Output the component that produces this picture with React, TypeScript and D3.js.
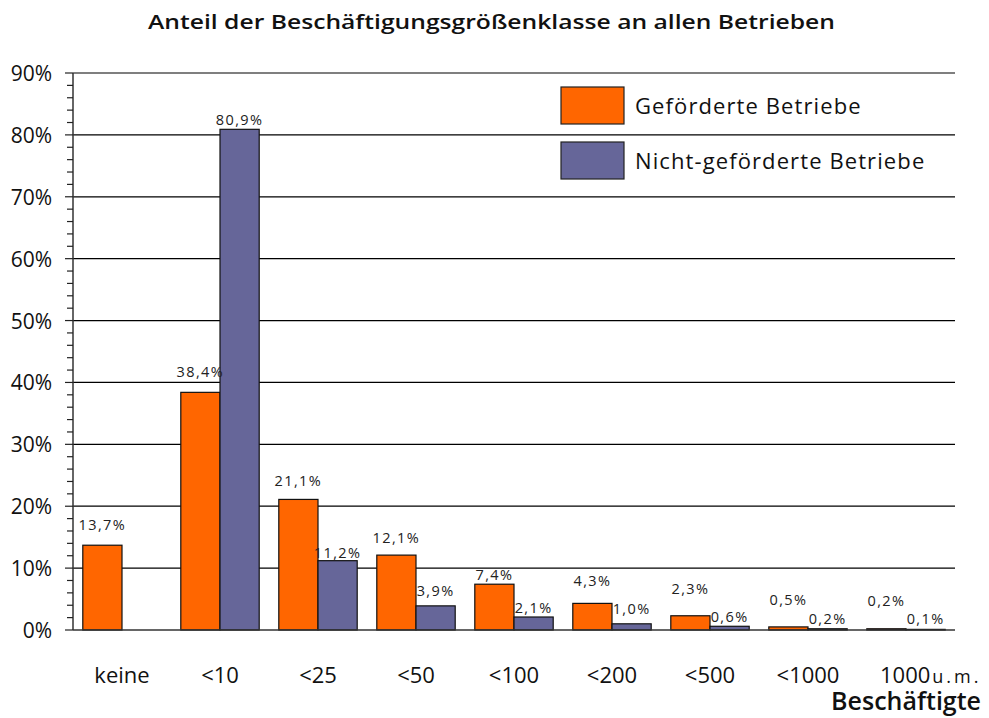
import React, { useEffect } from "react";
import * as d3 from "d3";

const categories = ["keine", "<10", "<25", "<50", "<100", "<200", "<500", "<1000", "1000"];
const lastSuffix = "u.m.";
const seriesNames = ["Geförderte Betriebe", "Nicht-geförderte Betriebe"];
const gefoerdert: (number | null)[] = [13.7, 38.4, 21.1, 12.1, 7.4, 4.3, 2.3, 0.5, 0.2];
const nichtGefoerdert: (number | null)[] = [null, 80.9, 11.2, 3.9, 2.1, 1.0, 0.6, 0.2, 0.1];
const yTicks = [0, 10, 20, 30, 40, 50, 60, 70, 80, 90];
const minorTicks = d3.range(0, 90.01, 2);
// vertical gap (px) between bar top and its value label, as placed in the original
const labelGapA = [15, 15, 13, 12, 4, 17, 22, 22, 23];
const labelGapB = [0, 4, 3, 10, 4, 10, 4, 5, 5];

const colors = ["#FF6600", "#666699"];
const W = 989;
const H = 718;
const FONT = "'Open Sans', 'DejaVu Sans', sans-serif";

const fmt = (v: number) => v.toFixed(1).replace(".", ",") + "%";

export default function App() {
  useEffect(() => {
    document.body.style.margin = "0";
  }, []);

  const left = 73;
  const right = 955;
  const y = d3.scaleLinear().domain([0, 90]).range([630, 73]);
  const x = d3.scaleBand<string>().domain(categories).range([left, right]).paddingInner(0.2).paddingOuter(0.1);
  const sub = d3.scaleBand<number>().domain([0, 1]).range([0, x.bandwidth()]);
  const series = [gefoerdert, nichtGefoerdert];
  const gaps = [labelGapA, labelGapB];
  const lastCat = categories[categories.length - 1];

  return (
    <svg width={W} height={H} style={{ display: "block", background: "#fff" }} fontFamily={FONT}>
      <text x={148} y={29} fontSize={19} fontWeight={600} fill="#111" textLength={687} lengthAdjust="spacingAndGlyphs">
        Anteil der Beschäftigungsgrößenklasse an allen Betrieben
      </text>

      {/* gridlines */}
      {yTicks.filter((t) => t > 0).map((t) => (
        <line key={"g" + t} x1={left} x2={right} y1={y(t)} y2={y(t)} stroke="#000" strokeWidth={1.2} />
      ))}

      {/* legend */}
      {seriesNames.map((n, i) => (
        <g key={n}>
          <rect x={561} y={87 + i * 55} width={63} height={37} fill={colors[i]} stroke="#222" strokeWidth={1.2} />
          <text x={635} y={104.5 + i * 55} dominantBaseline="central" fontSize={22} letterSpacing={1.1} fill="#111">
            {n}
          </text>
        </g>
      ))}

      {/* bars */}
      {series.map((s, si) =>
        s.map((v, ci) =>
          v == null ? null : (
            <rect
              key={si + "-" + ci}
              x={(x(categories[ci]) as number) + (sub(si) as number)}
              y={y(v)}
              width={sub.bandwidth()}
              height={y(0) - y(v)}
              fill={colors[si]}
              stroke="#111"
              strokeWidth={1.2}
            />
          )
        )
      )}

      {/* value labels */}
      {series.map((s, si) =>
        s.map((v, ci) =>
          v == null ? null : (
            <text
              key={"l" + si + "-" + ci}
              x={(x(categories[ci]) as number) + (sub(si) as number) + sub.bandwidth() / 2}
              y={y(v) - gaps[si][ci]}
              textAnchor="middle"
              fontSize={14.5}
              letterSpacing={1.4}
              fill="#222"
            >
              {fmt(v)}
            </text>
          )
        )
      )}

      {/* axes */}
      <line x1={left} x2={right} y1={y(0)} y2={y(0)} stroke="#333" strokeWidth={1.5} />
      <line x1={left} x2={left} y1={y(0)} y2={y(90)} stroke="#333" strokeWidth={1.5} />
      {minorTicks.map((t) => (
        <line key={"m" + t} x1={t % 10 === 0 ? 65 : 67} x2={left} y1={y(t)} y2={y(t)} stroke="#222" strokeWidth={1.2} />
      ))}
      {yTicks.map((t) => (
        <text key={"yt" + t} x={52} y={y(t)} textAnchor="end" dominantBaseline="central" fontSize={21} fill="#111">
          {t + "%"}
        </text>
      ))}

      {categories.map((c) =>
        c === lastCat ? (
          <text key={"xt" + c} x={(x(c) as number) + x.bandwidth() / 2 - 26} y={683} fontSize={22} fill="#111">
            {c}
            <tspan dx={2} fontSize={18} letterSpacing={3}>
              {lastSuffix}
            </tspan>
          </text>
        ) : (
          <text
            key={"xt" + c}
            x={(x(c) as number) + x.bandwidth() / 2}
            y={683}
            textAnchor="middle"
            fontSize={22}
            fill="#111"
          >
            {c}
          </text>
        )
      )}
      <text x={981} y={710} textAnchor="end" fontSize={25} fontWeight={600} fill="#111">
        Beschäftigte
      </text>
    </svg>
  );
}
